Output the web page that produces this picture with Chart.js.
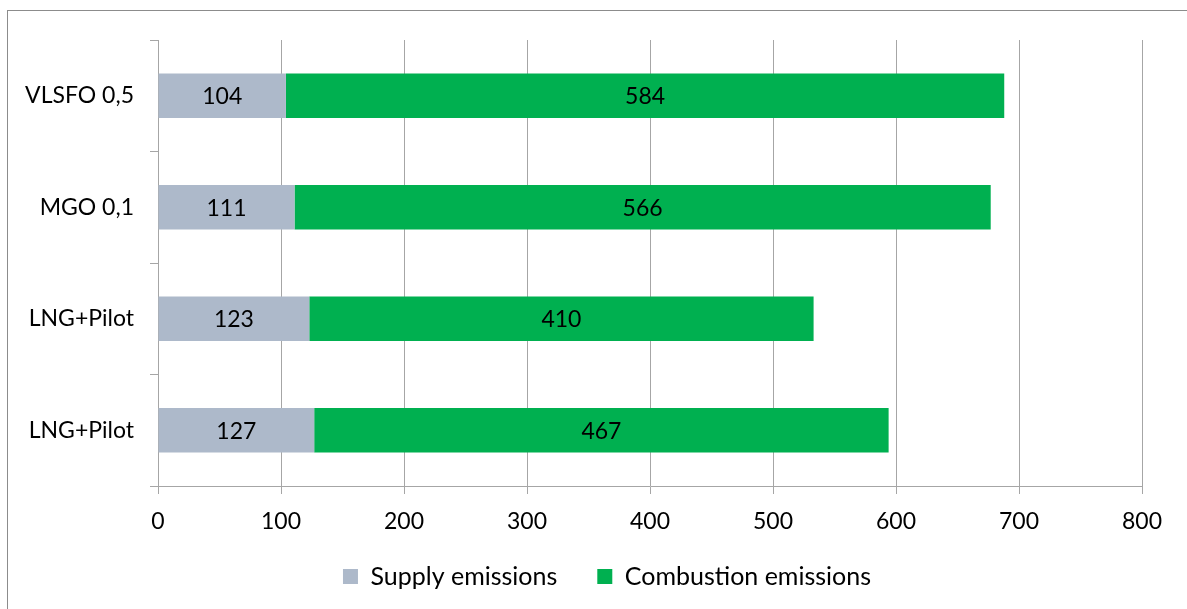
<!DOCTYPE html>
<html>
<head>
<meta charset="utf-8">
<script src="https://cdn.jsdelivr.net/npm/chart.js@4"></script>
<style>
  body { margin: 0; background: #fff; }
  #wrap { position: relative; width: 1187px; height: 609px; overflow: hidden; }
  #frame { position: absolute; left: 7px; top: 10px; width: 1300px; height: 700px;
           border-left: 1px solid #8c8c8c; border-top: 1px solid #8c8c8c; pointer-events: none; }
  canvas { position: absolute; left: 0; top: 0; }
</style>
</head>
<body>
<div id="wrap">
  <canvas id="chart" width="1187" height="609"></canvas>
  <div id="frame"></div>
</div>
<script>
// данные с картинки
const categories = ['VLSFO 0,5', 'MGO 0,1', 'LNG+Pilot', 'LNG+Pilot'];
const supplyValues = [104, 111, 123, 127];
const combustionValues = [584, 566, 410, 467];
const xTicks = [0, 100, 200, 300, 400, 500, 600, 700, 800];

const FONT = 'Lato, "Open Sans", sans-serif';
const gridColor = '#a6a6a6';

// подписи значений в центре сегментов
const barLabels = {
  id: 'barLabels',
  afterDatasetsDraw(chart) {
    const ctx = chart.ctx;
    ctx.save();
    ctx.font = '23px ' + FONT;
    ctx.fillStyle = '#000';
    ctx.textAlign = 'center';
    ctx.textBaseline = 'middle';
    chart.data.datasets.forEach((ds, i) => {
      chart.getDatasetMeta(i).data.forEach((bar, j) => {
        const p = bar.getProps(['x', 'y', 'base'], true);
        ctx.fillText(ds.data[j], (p.x + p.base) / 2, p.y + 1);
      });
    });
    ctx.restore();
  }
};

// легенда в оригинале чуть правее центра и чуть выше
const legendShift = {
  id: 'legendShift',
  afterLayout(chart) {
    if (chart.legend) {
      chart.legend.left += 36;
      chart.legend.right += 36;
      chart.legend.top -= 6;
      chart.legend.bottom -= 6;
    }
  }
};

new Chart(document.getElementById('chart'), {
  type: 'bar',
  data: {
    labels: categories,
    datasets: [
      { label: 'Supply emissions', data: supplyValues, backgroundColor: '#adb9ca' },
      { label: 'Combustion emissions', data: combustionValues, backgroundColor: '#00b050' }
    ]
  },
  options: {
    indexAxis: 'y',
    responsive: false,
    animation: false,
    barPercentage: 0.4,
    categoryPercentage: 1,
    layout: { padding: { top: 40, right: 45, left: 0, bottom: 4 } },
    scales: {
      x: {
        stacked: true,
        min: 0,
        max: 800,
        afterBuildTicks: axis => { axis.ticks = xTicks.map(v => ({ value: v })); },
        afterFit: axis => { axis.height = 44; },
        grid: { color: gridColor, tickLength: 8, lineWidth: 1 },
        border: { color: gridColor },
        ticks: { color: '#000', font: { family: FONT, size: 23 }, padding: 14 }
      },
      y: {
        stacked: true,
        afterFit: axis => { axis.width = 158; },
        grid: { drawOnChartArea: false, color: gridColor, tickLength: 8, offset: true },
        border: { color: gridColor },
        ticks: { color: '#000', font: { family: FONT, size: 23 }, padding: 16 }
      }
    },
    plugins: {
      legend: {
        position: 'bottom',
        labels: {
          color: '#000',
          font: { family: FONT, size: 25 },
          boxWidth: 15,
          boxHeight: 15,
          padding: 40
        }
      },
      tooltip: { enabled: false }
    }
  },
  plugins: [barLabels, legendShift]
});
</script>
</body>
</html>
